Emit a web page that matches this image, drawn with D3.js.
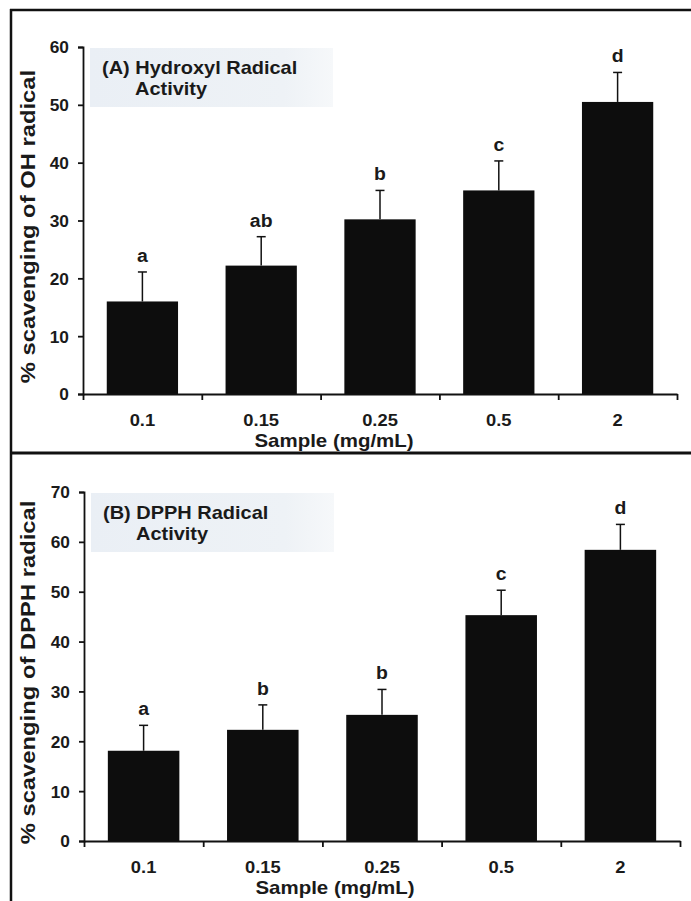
<!DOCTYPE html>
<html>
<head>
<meta charset="utf-8">
<script src="https://cdn.jsdelivr.net/npm/d3@7"></script>
<style>
  body { margin: 0; background: #fff; }
  svg { display: block; font-family: "Liberation Sans", Arial, sans-serif; }
</style>
</head>
<body>
<svg id="chart" width="691" height="901"></svg>
<script>
// sample concentrations on the x axis
const samples = ['0.1', '0.15', '0.25', '0.5', '2'];

// (A) hydroxyl radical scavenging
const ohMeans = [16, 22.2, 30.2, 35.2, 50.5];
const ohErrors = [5.1, 5.0, 5.0, 5.1, 5.1];
const ohLetters = ['a', 'ab', 'b', 'c', 'd'];
const ohTicks = [0, 10, 20, 30, 40, 50, 60];

// (B) DPPH radical scavenging
const dpphMeans = [18.1, 22.3, 25.3, 45.3, 58.4];
const dpphErrors = [5.1, 5.0, 5.1, 5.0, 5.1];
const dpphLetters = ['a', 'b', 'b', 'c', 'd'];
const dpphTicks = [0, 10, 20, 30, 40, 50, 60, 70];

const ink = '#1a1a1a';
const svg = d3.select('#chart');

// scanned figure type is a little wider than Arial, so some text gets stretched
function label(parent, x, y, txt, size, sx, anchor, rot) {
  return parent.append('text')
    .attr('transform', `translate(${x},${y})` + (rot ? ` rotate(${rot})` : '') + ` scale(${sx},1)`)
    .attr('text-anchor', anchor || 'start')
    .attr('font-size', size).attr('font-weight', 'bold').attr('fill', ink)
    .text(txt);
}

// outer frame of the scanned figure
svg.append('line').attr('x1', 10).attr('x2', 691).attr('y1', 10).attr('y2', 10)
  .attr('stroke', '#111').attr('stroke-width', 2.5);
svg.append('line').attr('x1', 11).attr('x2', 11).attr('y1', 9).attr('y2', 901)
  .attr('stroke', '#111').attr('stroke-width', 2.5);
svg.append('line').attr('x1', 10).attr('x2', 691).attr('y1', 453).attr('y2', 453)
  .attr('stroke', '#111').attr('stroke-width', 3);

function drawPanel(opts) {
  const g = svg.append('g');

  const x = d3.scaleBand()
    .domain(samples)
    .range([opts.x0, opts.x1])
    .paddingInner(0.4)
    .paddingOuter(0.2);

  const y = d3.scaleLinear()
    .domain([0, d3.max(opts.ticks)])
    .range([opts.yBottom, opts.yTop]);

  const top = y(d3.max(opts.ticks));

  // title box
  const grad = svg.append('defs').append('linearGradient')
    .attr('id', opts.id + '-bg').attr('x1', 0).attr('x2', 1);
  grad.append('stop').attr('offset', 0).attr('stop-color', '#eaeff5');
  grad.append('stop').attr('offset', 0.8).attr('stop-color', '#eef2f6');
  grad.append('stop').attr('offset', 1).attr('stop-color', '#f6f8fa');
  g.append('rect')
    .attr('x', opts.x0 + 7).attr('y', top + 1)
    .attr('width', 243).attr('height', 59)
    .attr('fill', `url(#${opts.id}-bg)`);

  label(g, opts.x0 + 19, top + 27, opts.title, 18, 1.11);
  label(g, opts.x0 + 52, top + 48, 'Activity', 18, 1.11);

  // bars
  g.selectAll('.bar')
    .data(opts.means)
    .join('rect')
      .attr('class', 'bar')
      .attr('x', (d, i) => x(samples[i]))
      .attr('y', d => y(d))
      .attr('width', x.bandwidth())
      .attr('height', d => y(0) - y(d))
      .attr('fill', '#0d0d0d');

  // error bars (upper only)
  const cx = i => x(samples[i]) + x.bandwidth() / 2;
  g.selectAll('.err')
    .data(opts.means)
    .join('line')
      .attr('class', 'err')
      .attr('x1', (d, i) => cx(i)).attr('x2', (d, i) => cx(i))
      .attr('y1', d => y(d))
      .attr('y2', (d, i) => y(d + opts.errors[i]))
      .attr('stroke', '#111').attr('stroke-width', 1.5);
  g.selectAll('.cap')
    .data(opts.means)
    .join('line')
      .attr('class', 'cap')
      .attr('x1', (d, i) => cx(i) - 4.5).attr('x2', (d, i) => cx(i) + 4.5)
      .attr('y1', (d, i) => y(d + opts.errors[i]))
      .attr('y2', (d, i) => y(d + opts.errors[i]))
      .attr('stroke', '#111').attr('stroke-width', 1.5);

  // significance letters
  opts.letters.forEach((d, i) => {
    label(g, cx(i), y(opts.means[i] + opts.errors[i]) - 10, d, 18.5, 1.05, 'middle');
  });

  // y axis
  const yAxis = g.append('g')
    .attr('transform', `translate(${opts.x0},0)`)
    .call(d3.axisLeft(y).tickValues(opts.ticks).tickSize(5).tickPadding(0).tickFormat(d3.format('d')));
  yAxis.selectAll('text')
    .attr('x', 0).attr('dy', '0.36em')
    .attr('transform', 'translate(-14,0) scale(1.05,1)')
    .attr('font-size', 16.5).attr('font-weight', 'bold').attr('fill', ink)
    .attr('font-family', '"Liberation Sans", Arial, sans-serif');

  // x axis: line with ticks at category boundaries
  const xEdges = d3.scaleLinear().domain([0, samples.length]).range([opts.x0, opts.x1]);
  g.append('g')
    .attr('transform', `translate(0,${y(0)})`)
    .call(d3.axisBottom(xEdges).tickValues(d3.range(0, samples.length + 1)).tickSize(6).tickSizeOuter(0).tickFormat(''));

  const xAxis = g.append('g')
    .attr('transform', `translate(0,${y(0)})`)
    .call(d3.axisBottom(x).tickSize(0).tickPadding(20));
  xAxis.select('.domain').remove();
  xAxis.selectAll('text')
    .attr('transform', 'scale(1.08,1)')
    .attr('font-size', 17).attr('font-weight', 'bold').attr('fill', ink)
    .attr('font-family', '"Liberation Sans", Arial, sans-serif');

  g.selectAll('.domain, .tick line').attr('stroke', '#111').attr('stroke-width', 1.8);

  // axis titles (x title sits left of the axis centre in the original)
  label(g, opts.x0 + 251, y(0) + 53, 'Sample (mg/mL)', 17.5, 1.17, 'middle');
  label(g, 35, (opts.yTop + opts.yBottom) / 2 + 6, opts.yLabel, 19.5, 1.22, 'middle', -90);
}

drawPanel({
  id: 'oh',
  title: '(A) Hydroxyl Radical',
  yLabel: '% scavenging of OH radical',
  means: ohMeans, errors: ohErrors, letters: ohLetters, ticks: ohTicks,
  x0: 83, x1: 677, yTop: 47, yBottom: 394
});

drawPanel({
  id: 'dpph',
  title: '(B) DPPH Radical',
  yLabel: '% scavenging of DPPH radical',
  means: dpphMeans, errors: dpphErrors, letters: dpphLetters, ticks: dpphTicks,
  x0: 84, x1: 680, yTop: 492, yBottom: 841
});
</script>
</body>
</html>
